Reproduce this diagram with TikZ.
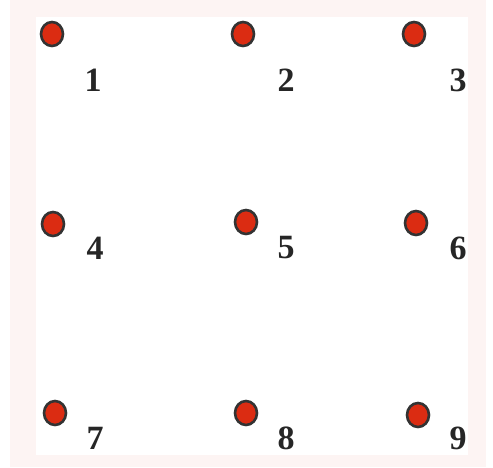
\documentclass[tikz,border=0pt]{standalone}
\usepackage{fontspec}
\setmainfont{Liberation Serif}
\usetikzlibrary{shapes.geometric}
\definecolor{dotred}{HTML}{DB2C12}
\definecolor{paper}{HTML}{FDF4F3}
\tikzset{
  pt/.style={ellipse, draw=black!80, line width=2.6pt, fill=dotred, minimum width=22pt, minimum height=24pt, inner sep=0pt},
  lbl/.style={font=\fontsize{34}{34}\selectfont\bfseries, inner sep=0pt, text=black!85}
}
\begin{document}
\begin{tikzpicture}[x=1pt,y=-1pt]
\useasboundingbox (0,0) rectangle (493,467);
\fill[white] (0,0) rectangle (493,467);
\fill[paper] (10,0) rectangle (486,467);
\fill[white] (36,17) rectangle (468,455);
\node[pt] (d1) at (52,34) {};
\node[pt] (d2) at (243,34) {};
\node[pt] (d3) at (414,34) {};
\node[pt] (d4) at (53,224) {};
\node[pt] (d5) at (246,222) {};
\node[pt] (d6) at (416,223) {};
\node[pt] (d7) at (55,413) {};
\node[pt] (d8) at (246,413) {};
\node[pt] (d9) at (418,415) {};
\node[lbl] (l1) at (93,80) {1};
\node[lbl] (l2) at (286,80) {2};
\node[lbl] (l3) at (458,80) {3};
\node[lbl] (l4) at (95,248) {4};
\node[lbl] (l5) at (286,248) {5};
\node[lbl] (l6) at (458,248) {6};
\node[lbl] (l7) at (95,438) {7};
\node[lbl] (l8) at (286,438) {8};
\node[lbl] (l9) at (458,438) {9};
\end{tikzpicture}
\end{document}
